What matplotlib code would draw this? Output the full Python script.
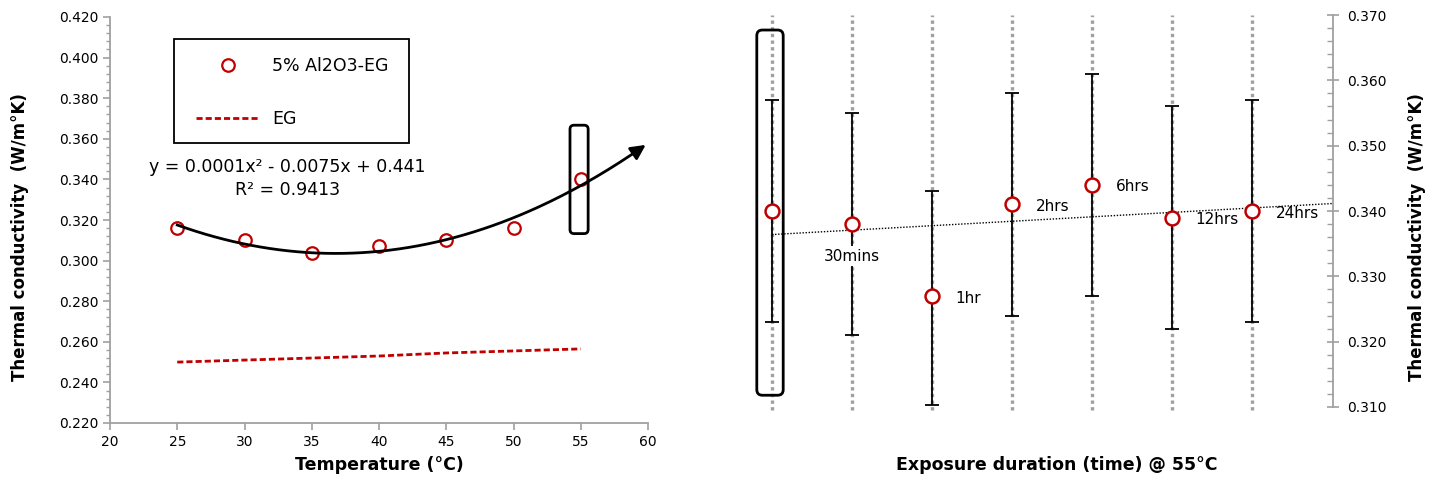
import numpy as np
import matplotlib.pyplot as plt
from matplotlib.patches import FancyBboxPatch, Rectangle
from matplotlib.ticker import MultipleLocator, FormatStrFormatter

# Datos: conductividad vs temperatura
temp = [25, 30, 35, 40, 45, 50, 55]
k_nano = [0.316, 0.310, 0.3035, 0.307, 0.310, 0.316, 0.340]
k_eg = [0.250, 0.251, 0.252, 0.253, 0.2545, 0.2555, 0.2565]

# Datos: conductividad vs tiempo de exposicion a 55 C
dur_labels = ['', '30mins', '1hr', '2hrs', '6hrs', '12hrs', '24hrs']
k_time = [0.340, 0.338, 0.327, 0.341, 0.344, 0.339, 0.340]
err_low = [0.017, 0.017, 0.0167, 0.017, 0.017, 0.017, 0.017]
err_high = [0.017, 0.017, 0.016, 0.017, 0.017, 0.017, 0.017]

red = '#C00000'
gray = '#A0A0A0'
plt.rcParams['font.family'] = ['DejaVu Sans']

fig = plt.figure(figsize=(14.39, 4.84), dpi=100)

# ---------------- panel izquierdo ----------------
ax1 = fig.add_axes([110 / 1439, 1 - 423 / 484, 538 / 1439, 406 / 484])
ax1.plot(temp, k_nano, 'o', ms=9, mfc='white', mec=red, mew=1.6, zorder=3,
         label='5% Al2O3-EG')
ax1.plot(temp, k_eg, color=red, lw=2, ls=(0, (2.2, 1.1)), label='EG')

# ajuste polinomico de segundo orden con flecha
coef = np.polyfit(temp, k_nano, 2)
xf = np.linspace(temp[0], 59.3, 200)
ax1.plot(xf, np.polyval(coef, xf), color='black', lw=2, zorder=4)
ax1.annotate('', xy=(60, np.polyval(coef, 60)), xytext=(59.0, np.polyval(coef, 59.0)),
             arrowprops=dict(arrowstyle='-|>', color='black', lw=2, mutation_scale=22),
             zorder=4)
ax1.text(33.2, 0.3404, 'y = 0.0001x² - 0.0075x + 0.441\nR² = 0.9413',
         ha='center', va='center', fontsize=12.5, linespacing=1.3)

# recuadro alrededor del punto a 55 C
ax1.add_patch(FancyBboxPatch((temp[-1] - 0.8, 0.3133), 1.35, 0.0534,
                             boxstyle='round,pad=0,rounding_size=0.3',
                             mutation_aspect=0.0067, fill=False, ec='black', lw=2, zorder=5))

ax1.add_patch(Rectangle((0.119, 0.6897), 0.4368, 0.2561, transform=ax1.transAxes,
                        fill=False, ec='black', lw=1.3))
ax1.legend(loc='upper left', bbox_to_anchor=(0.16, 0.902), frameon=False,
           fontsize=12.5, handlelength=3.7, handletextpad=0.7, labelspacing=2.05,
           borderpad=0, borderaxespad=0, numpoints=1)

ax1.set_xlim(20, 60)
ax1.set_ylim(0.220, 0.420)
ax1.xaxis.set_major_locator(MultipleLocator(5))
ax1.yaxis.set_major_locator(MultipleLocator(0.02))
ax1.yaxis.set_minor_locator(MultipleLocator(0.004))
ax1.yaxis.set_major_formatter(FormatStrFormatter('%.3f'))
for s in ['top', 'right']:
    ax1.spines[s].set_visible(False)
for s in ['left', 'bottom']:
    ax1.spines[s].set_color(gray)
    ax1.spines[s].set_linewidth(1.3)
ax1.tick_params(which='major', direction='out', length=5, width=1.2, color=gray,
                labelsize=10)
ax1.tick_params(which='minor', direction='out', length=3, width=1, color=gray)
ax1.set_xlabel('Temperature (°C)', fontsize=12.5, fontweight='bold', labelpad=5)
ax1.set_ylabel('Thermal conductivity  (W/m°K)', fontsize=12, fontweight='bold')
ax1.yaxis.set_label_coords(-0.15, 0.458)

# ---------------- panel derecho ----------------
ax2 = fig.add_axes([732 / 1439, 1 - 407 / 484, 601 / 1439, 392 / 484])
pos = np.arange(len(k_time))
ax2.vlines(pos, 0.3095, 0.370, colors=gray, lw=2.4, linestyles=(0, (1, 1)),
           clip_on=False, zorder=1)
ax2.errorbar(pos, k_time, yerr=[err_low, err_high], fmt='none', ecolor='black',
             elinewidth=1.3, capsize=5, capthick=1.3, zorder=2)

# linea de tendencia lineal
tcoef = np.polyfit(pos, k_time, 1)
xt = np.array([0, 7.0125])
ax2.plot(xt, np.polyval(tcoef, xt), color='black', lw=1, ls=(0, (1, 1.2)), zorder=3)

ax2.plot(pos, k_time, 'o', ms=10, mfc='white', mec=red, mew=1.8, zorder=5)

for i, lab in enumerate(dur_labels):
    if not lab:
        continue
    if i == 1:
        ax2.annotate(lab, (pos[i], k_time[i]), xytext=(0, -23), textcoords='offset points',
                     ha='center', va='center', fontsize=11, zorder=6,
                     bbox=dict(fc='white', ec='none', pad=2))
    else:
        ax2.annotate(lab, (pos[i], k_time[i]), xytext=(17, -1.5), textcoords='offset points',
                     ha='left', va='center', fontsize=11, zorder=6)

ax2.add_patch(FancyBboxPatch((-0.19, 0.3118), 0.33, 0.0559,
                             boxstyle='round,pad=0,rounding_size=0.07',
                             mutation_aspect=0.0123, fill=False, ec='black', lw=2, zorder=7))

ax2.set_xlim(-0.5, 7.0125)
ax2.set_ylim(0.310, 0.370)
ax2.yaxis.tick_right()
ax2.yaxis.set_label_position('right')
ax2.yaxis.set_major_locator(MultipleLocator(0.01))
ax2.yaxis.set_minor_locator(MultipleLocator(0.002))
ax2.yaxis.set_major_formatter(FormatStrFormatter('%.3f'))
ax2.set_xticks([])
for s in ['top', 'left', 'bottom']:
    ax2.spines[s].set_visible(False)
ax2.spines['right'].set_color(gray)
ax2.spines['right'].set_linewidth(1.3)
ax2.tick_params(which='major', direction='inout', length=8, width=1.2, color=gray,
                labelsize=10, pad=6)
ax2.tick_params(which='minor', direction='in', length=4, width=1, color=gray)
ax2.set_xlabel('Exposure duration (time) @ 55°C', fontsize=12.5, fontweight='bold')
ax2.xaxis.set_label_coords(0.54, -0.126)
ax2.set_ylabel('Thermal conductivity  (W/m°K)', fontsize=12, fontweight='bold')
ax2.yaxis.set_label_coords(1.124, 0.434)

fig.savefig('out.png', dpi=100)
